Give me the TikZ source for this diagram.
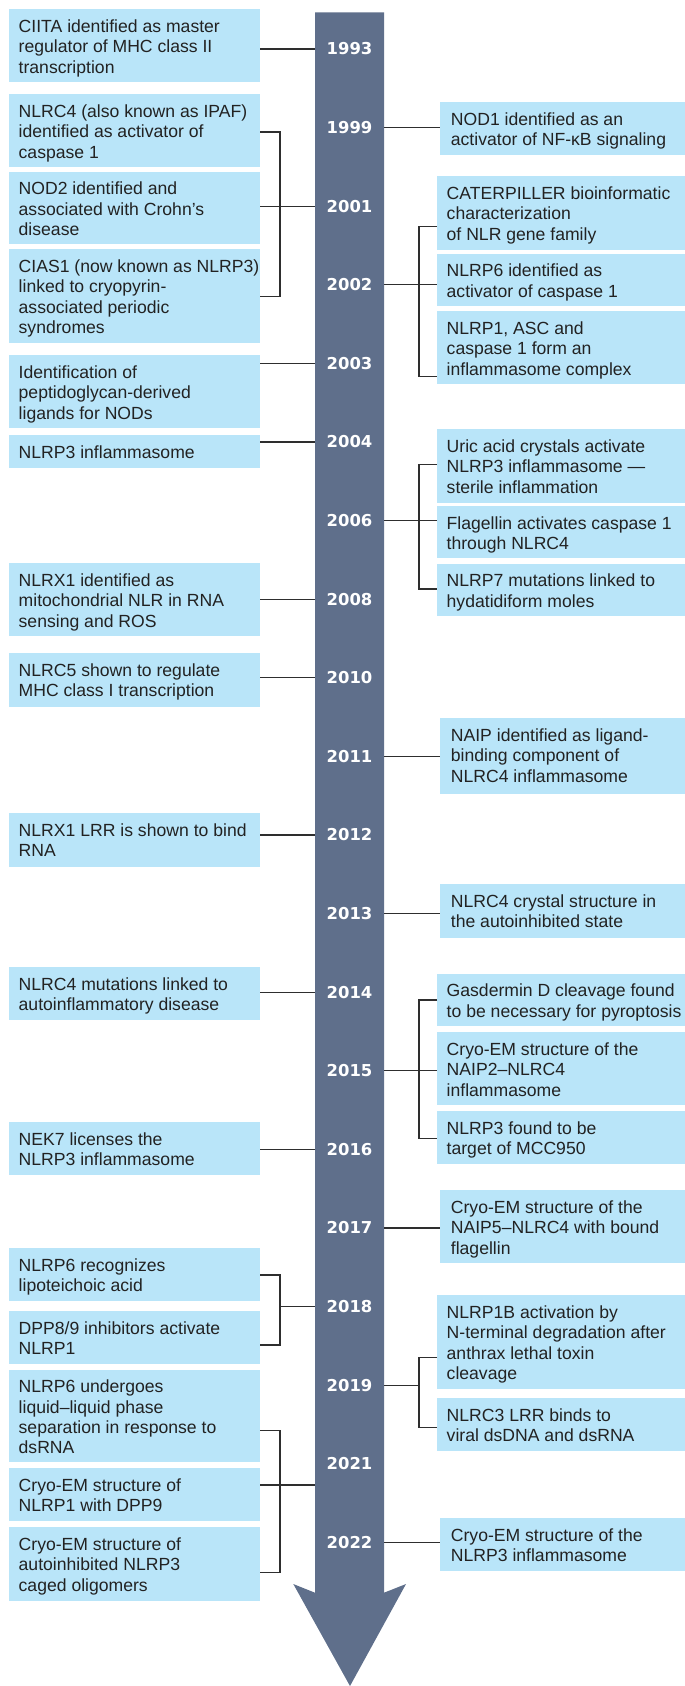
\documentclass[tikz,border=0pt]{standalone}
\usepackage{fontspec}
\setmainfont{Liberation Sans}
\newfontfamily\yearfont{DejaVu Sans}
\definecolor{barc}{HTML}{5F6F8B}
\definecolor{boxc}{HTML}{B9E5F9}
\definecolor{txtc}{HTML}{222222}
\definecolor{linec}{HTML}{2E2E2E}
\tikzset{
  evbox/.style={fill=boxc, draw=none, inner sep=0pt, anchor=north west, minimum height=#1},
  lbox/.style={evbox=#1, minimum width=251pt},
  rbox/.style={evbox=#1, minimum width=248pt},
  rsbox/.style={evbox=#1, minimum width=245pt},
  evtext/.style={inner sep=0pt, anchor=north west, align=left, text=txtc,
    font=\fontsize{17.6}{20.3}\selectfont},
  yr/.style={inner sep=0pt, minimum width=69pt, text=white,
    font=\yearfont\bfseries\fontsize{16.4}{16.4}\selectfont},
  conn/.style={draw=linec, line width=1.1pt},
}
% style, name, x, top, height, text padding, text
\newcommand\ev[7]{%
  \node[#1=#5] (#2) at (#3,#4) {};
  \node[evtext] (#2t) at ([xshift=#6pt]#2.north west) {\rule{0pt}{23.3pt}#7};}
\begin{document}
\begin{tikzpicture}[x=1pt,y=-1pt]
\useasboundingbox (0,0) rectangle (685,1686);
% timeline arrow
\fill[barc] (315,12.3) -- (384,12.3) -- (384,1592.7) -- (406,1584) -- (350,1686)
  -- (293.3,1584) -- (315,1592.7) -- cycle;
% years
\node[yr] (y1993) at (349.5,49) {1993};
\node[yr] (y1999) at (349.5,127.6) {1999};
\node[yr] (y2001) at (349.5,206.2) {2001};
\node[yr] (y2002) at (349.5,284.8) {2002};
\node[yr] (y2003) at (349.5,363.4) {2003};
\node[yr] (y2004) at (349.5,442) {2004};
\node[yr] (y2006) at (349.5,520.6) {2006};
\node[yr] (y2008) at (349.5,599.2) {2008};
\node[yr] (y2010) at (349.5,677.8) {2010};
\node[yr] (y2011) at (349.5,756.4) {2011};
\node[yr] (y2012) at (349.5,835) {2012};
\node[yr] (y2013) at (349.5,913.6) {2013};
\node[yr] (y2014) at (349.5,992.2) {2014};
\node[yr] (y2015) at (349.5,1070.8) {2015};
\node[yr] (y2016) at (349.5,1149.4) {2016};
\node[yr] (y2017) at (349.5,1228) {2017};
\node[yr] (y2018) at (349.5,1306.6) {2018};
\node[yr] (y2019) at (349.5,1385.2) {2019};
\node[yr] (y2021) at (349.5,1463.8) {2021};
\node[yr] (y2022) at (349.5,1542.4) {2022};
% left events
\ev{lbox}{b1}{9}{9}{72.7}{9.5}{CIITA identified as master\\regulator of MHC class II\\transcription}
\ev{lbox}{b2}{9}{94}{72.7}{9.5}{NLRC4 (also known as IPAF)\\identified as activator of\\caspase 1}
\ev{lbox}{b3}{9}{171.3}{72.4}{9.5}{NOD2 identified and\\associated with Crohn’s\\disease}
\ev{lbox}{b4}{9}{249}{93.7}{9.5}{CIAS1 (now known as NLRP3)\\linked to cryopyrin-\\associated periodic\\syndromes}
\ev{lbox}{b5}{9}{355}{72.7}{9.5}{Identification of\\peptidoglycan-derived\\ligands for NODs}
\ev{lbox}{b6}{9}{435}{32.7}{9.5}{NLRP3 inflammasome}
\ev{lbox}{b7}{9}{563}{72.7}{9.5}{NLRX1 identified as\\mitochondrial NLR in RNA\\sensing and ROS}
\ev{lbox}{b8}{9}{653}{54}{9.5}{NLRC5 shown to regulate\\MHC class I transcription}
\ev{lbox}{b9}{9}{813}{54}{9.5}{NLRX1 LRR is shown to bind\\RNA}
\ev{lbox}{b10}{9}{967}{53}{9.5}{NLRC4 mutations linked to\\autoinflammatory disease}
\ev{lbox}{b11}{9}{1122}{52.7}{9.5}{NEK7 licenses the\\NLRP3 inflammasome}
\ev{lbox}{b12}{9}{1248}{52.7}{9.5}{NLRP6 recognizes\\lipoteichoic acid}
\ev{lbox}{b13}{9}{1311}{52.3}{9.5}{DPP8/9 inhibitors activate\\NLRP1}
\ev{lbox}{b14}{9}{1369.3}{92.4}{9.5}{NLRP6 undergoes\\liquid–liquid phase\\separation in response to\\dsRNA}
\ev{lbox}{b15}{9}{1468}{52.7}{9.5}{Cryo-EM structure of\\NLRP1 with DPP9}
\ev{lbox}{b16}{9}{1527}{73.3}{9.5}{Cryo-EM structure of\\autoinhibited NLRP3\\caged oligomers}
% right events
\ev{rsbox}{r1}{440}{102}{52.3}{10.7}{NOD1 identified as an\\activator of NF-κB signaling}
\ev{rbox}{r2}{437}{176}{73.3}{9.5}{CATERPILLER bioinformatic\\characterization\\of NLR gene family}
\ev{rbox}{r3}{437}{253.3}{52}{9.5}{NLRP6 identified as\\activator of caspase 1}
\ev{rbox}{r4}{437}{311}{72.3}{9.5}{NLRP1, ASC and\\caspase 1 form an\\inflammasome complex}
\ev{rbox}{r5}{437}{429}{73.7}{9.5}{Uric acid crystals activate\\NLRP3 inflammasome —\\sterile inflammation}
\ev{rbox}{r6}{437}{505.7}{52}{9.5}{Flagellin activates caspase 1\\through NLRC4}
\ev{rbox}{r7}{437}{563.3}{52.4}{9.5}{NLRP7 mutations linked to\\hydatidiform moles}
\ev{rsbox}{r8}{440}{718}{76}{10.7}{NAIP identified as ligand-\\binding component of\\NLRC4 inflammasome}
\ev{rsbox}{r9}{440}{884}{54}{10.7}{NLRC4 crystal structure in\\the autoinhibited state}
\ev{rbox}{r10}{437}{973.3}{52.4}{9.5}{Gasdermin D cleavage found\\to be necessary for pyroptosis}
\ev{rbox}{r11}{437}{1032}{72.7}{9.5}{Cryo-EM structure of the\\NAIP2–NLRC4\\inflammasome}
\ev{rbox}{r12}{437}{1111}{52.7}{9.5}{NLRP3 found to be\\target of MCC950}
\ev{rsbox}{r13}{440}{1190}{72.7}{10.7}{Cryo-EM structure of the\\NAIP5–NLRC4 with bound\\flagellin}
\ev{rbox}{r14}{437}{1295}{93.7}{9.5}{NLRP1B activation by\\N-terminal degradation after\\anthrax lethal toxin\\cleavage}
\ev{rbox}{r15}{437}{1398}{52.3}{9.5}{NLRC3 LRR binds to\\viral dsDNA and dsRNA}
\ev{rsbox}{r16}{440}{1518}{52.3}{10.7}{Cryo-EM structure of the\\NLRP3 inflammasome}
% junction points of brackets
\coordinate (j2001) at (280,206.2);
\coordinate (j2018) at (280,1306.6);
\coordinate (j2021) at (280,1485);
\coordinate (k2002) at (419,284.8);
\coordinate (k2006) at (419,520.6);
\coordinate (k2015) at (419,1070.8);
\coordinate (k2019) at (419,1385.2);
% left single connectors
\draw[conn] (b1.east |- y1993) -- (y1993.west);
\draw[conn] (b5.east |- y2003) -- (y2003.west);
\draw[conn] (b6.east |- y2004) -- (y2004.west);
\draw[conn] (b7.east |- y2008) -- (y2008.west);
\draw[conn] (b8.east |- y2010) -- (y2010.west);
\draw[conn] (b9.east |- y2012) -- (y2012.west);
\draw[conn] (b10.east |- y2014) -- (y2014.west);
\draw[conn] (b11.east |- y2016) -- (y2016.west);
% left brackets
\draw[conn] (b2.east |- 0,132) -| (j2001) |- (b4.east |- 0,296.7);
\draw[conn] (b3.east |- j2001) -- (j2001 -| y2001.west);
\draw[conn] (b12.east |- 0,1275) -| (j2018) |- (b13.east |- 0,1345);
\draw[conn] (j2018) -- (j2018 -| y2018.west);
\draw[conn] (b14.east |- 0,1430.7) -| (j2021) |- (b16.east |- 0,1572.3);
\draw[conn] (b15.east |- j2021) -- (j2021 -| y2021.west);
% right single connectors
\draw[conn] (y1999.east) -- (r1.west |- y1999);
\draw[conn] (y2011.east) -- (r8.west |- y2011);
\draw[conn] (y2013.east) -- (r9.west |- y2013);
\draw[conn] (y2017.east) -- (r13.west |- y2017);
\draw[conn] (y2022.east) -- (r16.west |- y2022);
% right brackets
\draw[conn] (r2.west |- 0,226.7) -| (k2002) |- (r4.west |- 0,376.7);
\draw[conn] (y2002.east) -- (r3.west |- k2002);
\draw[conn] (r5.west |- 0,464.7) -| (k2006) |- (r7.west |- 0,589);
\draw[conn] (y2006.east) -- (r6.west |- k2006);
\draw[conn] (r10.west |- 0,1000) -| (k2015) |- (r12.west |- 0,1138.3);
\draw[conn] (y2015.east) -- (r11.west |- k2015);
\draw[conn] (r14.west |- 0,1357.7) -| (k2019) |- (r15.west |- 0,1427.7);
\draw[conn] (y2019.east) -- (k2019);
\end{tikzpicture}
\end{document}
